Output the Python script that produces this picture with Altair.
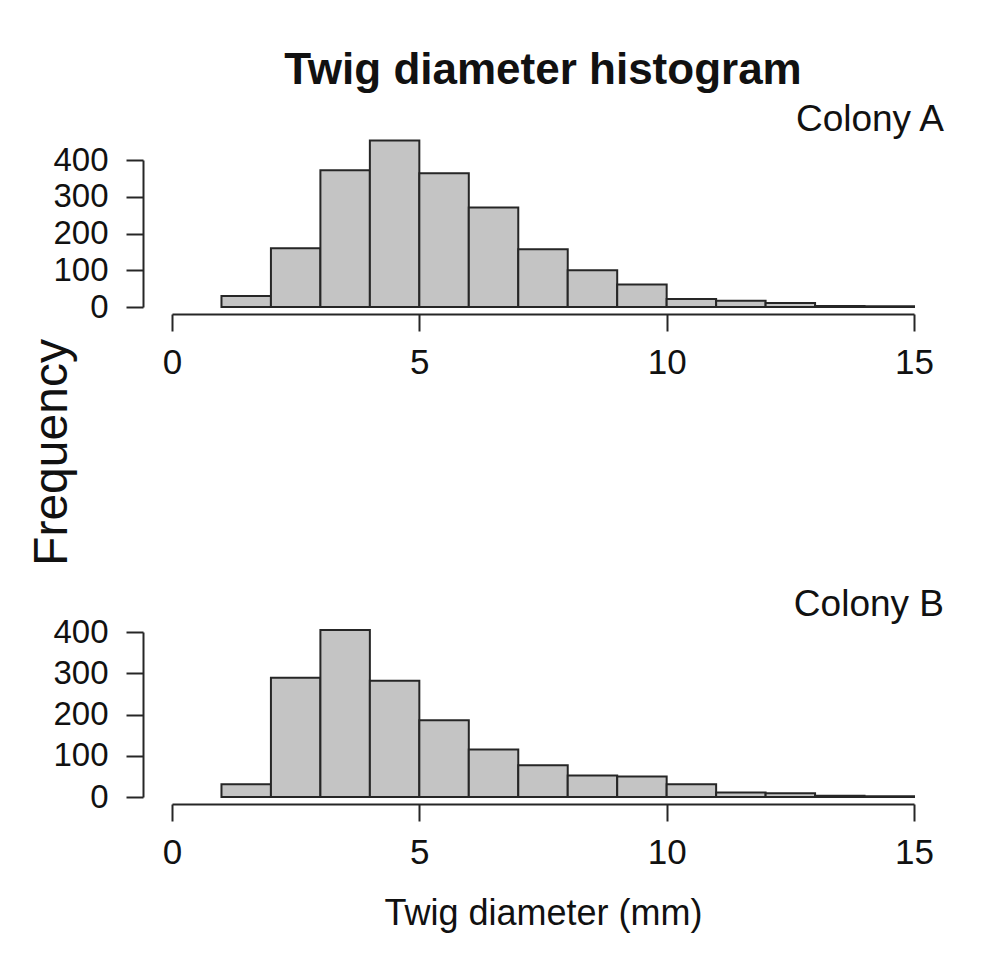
import altair as alt
import pandas as pd

# Histogram bins (mm) and counts
bin_start = [1, 2, 3, 4, 5, 6, 7, 8, 9, 10, 11, 12, 13, 14]
bin_end = [2, 3, 4, 5, 6, 7, 8, 9, 10, 11, 12, 13, 14, 15]
colony_a = [30, 160, 372, 453, 364, 271, 157, 100, 61, 22, 17, 11, 3, 2]
colony_b = [31, 289, 405, 282, 186, 115, 77, 52, 50, 31, 11, 9, 3, 2]
x_ticks = [0, 5, 10, 15]
y_ticks = [0, 100, 200, 300, 400]

FONT = "Liberation Sans"
INK = "#262626"


def panel(counts, label, height, label_dy, title_text=None, xtitle=None, ytitle=None):
    df = pd.DataFrame({"start": bin_start, "end": bin_end, "count": counts})

    xa = dict(values=x_ticks, tickCount=len(x_ticks), offset=7, tickSize=17, labelPadding=14,
              labelFontSize=35, labelFlush=False, labelOverlap=False,
              labelColor="#111111", domainColor=INK, domainWidth=2, tickColor=INK,
              tickWidth=2, grid=False, labelFont=FONT, format="d")
    if xtitle:
        xa.update(title=xtitle, titleFontSize=36, titleFontWeight="normal", titleFont=FONT,
                  titleColor="#111111", titleBaseline="alphabetic", titleY=120)
    else:
        xa.update(title="")
    ya = dict(values=y_ticks, tickCount=len(y_ticks), offset=29, tickSize=17, labelPadding=18,
              labelFontSize=33, labelFlush=False, labelOverlap=False,
              labelColor="#111111", domainColor=INK, domainWidth=2, tickColor=INK,
              tickWidth=2, grid=False, labelFont=FONT, format="d")
    if ytitle:
        ya.update(title=ytitle, titleFontSize=48, titleFontWeight="normal", titleFont=FONT,
                  titleColor="#111111", titleX=-67, titleY=292, titleAngle=270,
                  titleBaseline="bottom", titleAlign="center")
    else:
        ya.update(title="")

    bars = alt.Chart(df).mark_rect(fill="#c4c4c4", stroke=INK, strokeWidth=2).encode(
        x=alt.X("start:Q", scale=alt.Scale(domain=[0, 15], nice=False, zero=False),
                axis=alt.Axis(**xa)),
        x2="end:Q",
        y=alt.Y("count:Q", scale=alt.Scale(domain=[0, 400], nice=False),
                axis=alt.Axis(**ya)),
        y2=alt.datum(0),
    )
    lab = alt.Chart(pd.DataFrame({"label": [label]})).mark_text(
        align="right", baseline="alphabetic", fontSize=37, font=FONT, color="#111111",
        dx=30, dy=label_dy,
    ).encode(x=alt.datum(15), y=alt.datum(400), text="label:N")

    ch = alt.layer(bars, lab).properties(width=742, height=height)
    if title_text:
        ch = ch.properties(title=alt.TitleParams(
            title_text, fontSize=44, fontWeight="bold", font=FONT, color="#111111",
            anchor="middle", frame="group", offset=8))
    return ch


top = panel(colony_a, "Colony A", 147, -29, title_text="Twig diameter histogram",
            ytitle="Frequency")
bottom = panel(colony_b, "Colony B", 165, -16, xtitle="Twig diameter (mm)")

chart = alt.vconcat(top, bottom, spacing=325, bounds="flush").properties(
    padding={"left": 20, "top": 41, "right": 5, "bottom": 5}
).configure(font=FONT).configure_view(strokeWidth=0)

chart.save("out.html", embed_options={"renderer": "svg", "actions": False})
